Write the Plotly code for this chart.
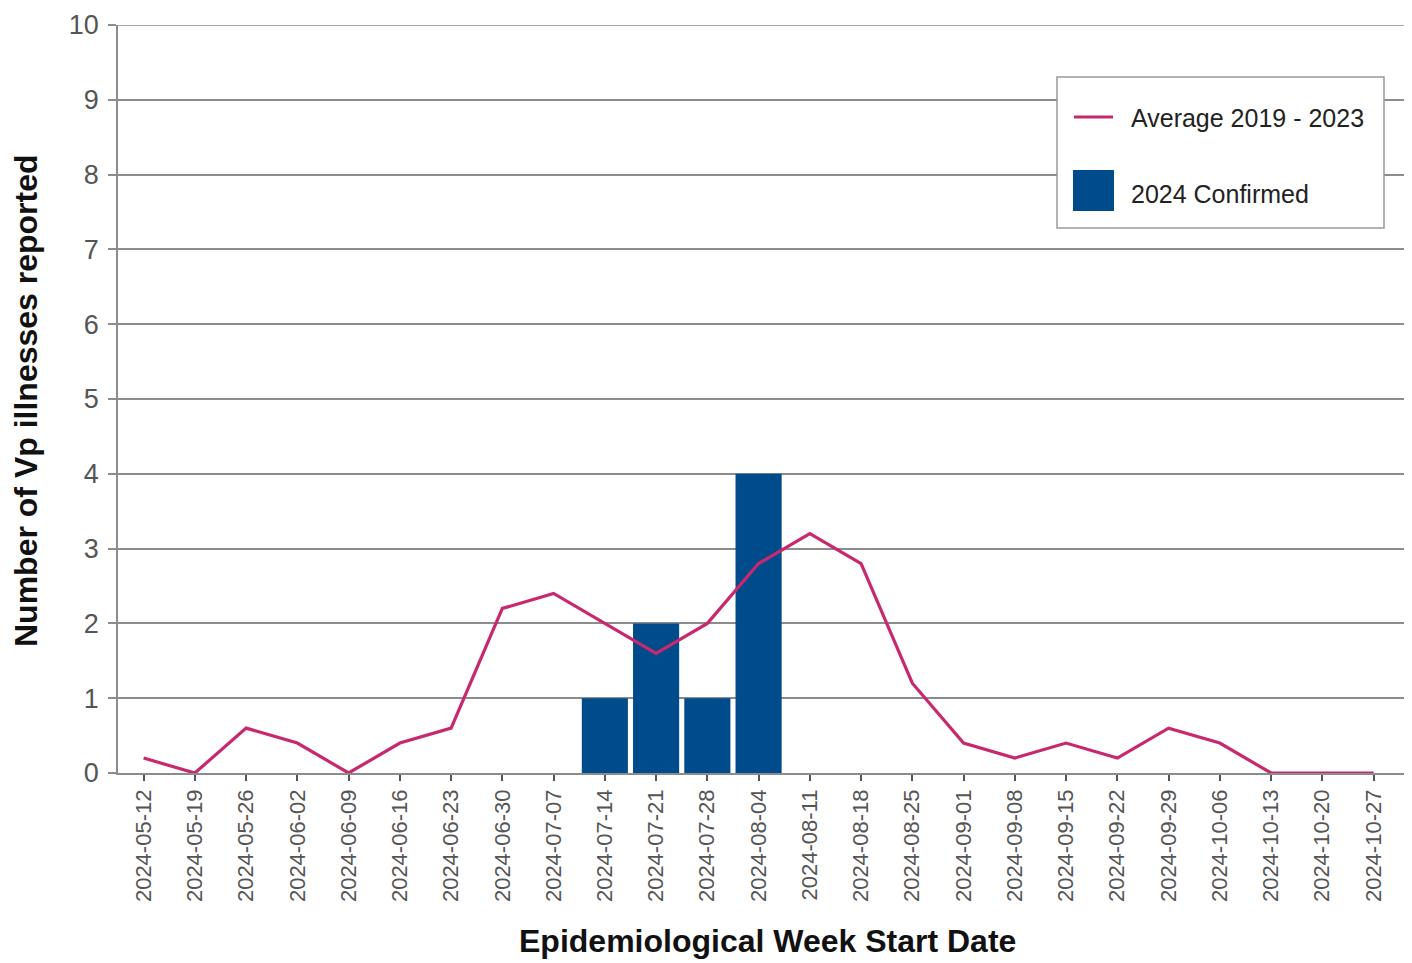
import plotly.graph_objects as go

weeks = ["2024-05-12", "2024-05-19", "2024-05-26", "2024-06-02", "2024-06-09",
         "2024-06-16", "2024-06-23", "2024-06-30", "2024-07-07", "2024-07-14",
         "2024-07-21", "2024-07-28", "2024-08-04", "2024-08-11", "2024-08-18",
         "2024-08-25", "2024-09-01", "2024-09-08", "2024-09-15", "2024-09-22",
         "2024-09-29", "2024-10-06", "2024-10-13", "2024-10-20", "2024-10-27"]

avg_2019_2023 = [0.2, 0.0, 0.6, 0.4, 0.0, 0.4, 0.6, 2.2, 2.4, 2.0,
                 1.6, 2.0, 2.8, 3.2, 2.8, 1.2, 0.4, 0.2, 0.4, 0.2,
                 0.6, 0.4, 0.0, 0.0, 0.0]

confirmed_2024 = [0, 0, 0, 0, 0, 0, 0, 0, 0, 1,
                  2, 1, 4, 0, 0, 0, 0, 0, 0, 0,
                  0, 0, 0, 0, 0]

y_ticks = list(range(0, 11))

LINE_COLOR = "#C8286E"
BAR_COLOR = "#004B8C"
GRID = "#8C8C8C"
FONT = "Arial, Liberation Sans, sans-serif"

OFF = 8  # page body margin
W, H = 1412 - OFF, 963 - OFF
L, R, T, B = 118 - OFF, 0, 25 - OFF, 190
PW, PH = W - L - R, H - T - B


def px(x):
    # page pixel -> paper coordinate
    return (x - OFF - L) / PW


def py(y):
    return (H - B - (y - OFF)) / PH


fig = go.Figure()
fig.add_trace(go.Bar(x=weeks, y=confirmed_2024, name="2024 Confirmed",
                     marker=dict(color=BAR_COLOR, line=dict(width=0)),
                     showlegend=False))
fig.add_trace(go.Scatter(x=weeks, y=avg_2019_2023, name="Average 2019 - 2023",
                         mode="lines", line=dict(color=LINE_COLOR, width=3.2),
                         showlegend=False))

shapes = [
    # top gridline at y = 10
    dict(type="line", xref="paper", yref="y", x0=0, x1=1, y0=y_ticks[-1], y1=y_ticks[-1],
         line=dict(color=GRID, width=1.5), layer="below"),
    # legend box and swatches (drawn manually to match large swatches)
    dict(type="rect", xref="paper", yref="paper", x0=px(1057), x1=px(1384),
         y0=py(228), y1=py(77), line=dict(color="#999999", width=1.5),
         fillcolor="white", layer="above"),
    dict(type="line", xref="paper", yref="paper", x0=px(1074), x1=px(1113),
         y0=py(117), y1=py(117), line=dict(color=LINE_COLOR, width=3), layer="above"),
    dict(type="rect", xref="paper", yref="paper", x0=px(1073), x1=px(1114),
         y0=py(211), y1=py(170), line=dict(width=0), fillcolor=BAR_COLOR, layer="above"),
]
annotations = [
    dict(text="Average 2019 - 2023", xref="paper", yref="paper", x=px(1129), y=py(118),
         xanchor="left", yanchor="middle", showarrow=False,
         font=dict(family=FONT, size=25, color="#222222")),
    dict(text="2024 Confirmed", xref="paper", yref="paper", x=px(1129), y=py(194),
         xanchor="left", yanchor="middle", showarrow=False,
         font=dict(family=FONT, size=25, color="#222222")),
    dict(text="<b>Number of Vp illnesses reported</b>", xref="paper", yref="paper",
         x=px(26), y=py(401), xanchor="center", yanchor="middle", textangle=-90,
         showarrow=False, font=dict(family=FONT, size=32, color="#111111")),
    dict(text="<b>Epidemiological Week Start Date</b>", xref="paper", yref="paper",
         x=px(767), y=py(941), xanchor="center", yanchor="middle",
         showarrow=False, font=dict(family=FONT, size=32, color="#111111")),
]

fig.update_layout(
    width=W, height=H,
    margin=dict(l=L, r=R, t=T, b=B, pad=0),
    paper_bgcolor="white", plot_bgcolor="white",
    bargap=0.1,
    showlegend=False,
    shapes=shapes,
    annotations=annotations,
    font=dict(family=FONT),
)
fig.update_xaxes(
    type="category", categoryorder="array", categoryarray=weeks,
    range=[-0.5, 24.75],
    tickangle=-90, tickfont=dict(family=FONT, size=22, color="#555555"),
    ticks="outside", ticklen=6, tickcolor="#555555", tickwidth=1.5,
    showline=True, linecolor=GRID, linewidth=1.5,
    showgrid=False, zeroline=False,
)
fig.update_yaxes(
    range=[0, 10], tickvals=y_ticks,
    tickfont=dict(family=FONT, size=27, color="#555555"),
    ticks="outside", ticklen=8, tickcolor=GRID, tickwidth=1.5,
    showline=True, linecolor=GRID, linewidth=1.5,
    showgrid=True, gridcolor=GRID, gridwidth=1.5,
    zeroline=False, ticklabelstandoff=4,
)

fig.write_html("out.html")
